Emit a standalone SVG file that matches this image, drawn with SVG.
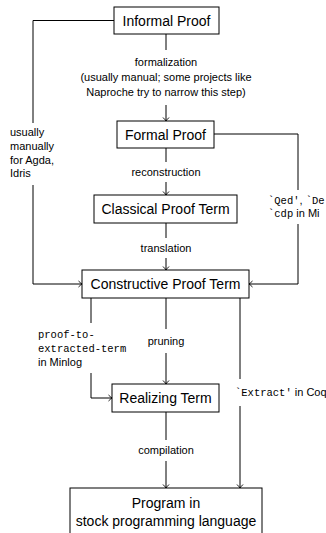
<svg xmlns="http://www.w3.org/2000/svg" width="326" height="533" viewBox="0 0 326 533">
<style>
.box{fill:#fff;stroke:#000;stroke-width:1}
.nt{font-family:"Liberation Sans",Arial,sans-serif;font-size:14px;fill:#000;text-anchor:middle}
.el{font-family:"Liberation Sans",Arial,sans-serif;font-size:11px;fill:#000}
.mono{font-family:"Liberation Mono","Courier New",monospace;font-size:10.5px}
.c{text-anchor:middle}
.ln{fill:none;stroke:#000;stroke-width:1}
</style>
<defs>
<marker id="ah" viewBox="-5 -4 6 8" refX="0" refY="0" markerWidth="6" markerHeight="8" markerUnits="userSpaceOnUse" orient="auto">
<path d="M-3.5,-3 Q-1,-0.6 0,0 Q-1,0.6 -3.5,3" fill="none" stroke="#000" stroke-width="0.9"/>
</marker>
</defs>
<g id="connectors">
<path class="ln" d="M166,34 V50"/>
<path class="ln" d="M166,105 V121" marker-end="url(#ah)"/>
<path class="ln" d="M166,148 V162"/>
<path class="ln" d="M166,182 V195" marker-end="url(#ah)"/>
<path class="ln" d="M166,223 V238"/>
<path class="ln" d="M166,258 V270" marker-end="url(#ah)"/>
<path class="ln" d="M114,20.5 H33 V123"/>
<path class="ln" d="M33,185 V284 H82" marker-end="url(#ah)"/>
<path class="ln" d="M214,134 H298 V190"/>
<path class="ln" d="M298,224 V284 H249" marker-end="url(#ah)"/>
<path class="ln" d="M166,298 V329"/>
<path class="ln" d="M166,353 V384" marker-end="url(#ah)"/>
<path class="ln" d="M91,298 V323"/>
<path class="ln" d="M91,373 V398 H112" marker-end="url(#ah)"/>
<path class="ln" d="M240,298 V379"/>
<path class="ln" d="M240,406 V488" marker-end="url(#ah)"/>
<path class="ln" d="M166,412 V440"/>
<path class="ln" d="M166,461 V488" marker-end="url(#ah)"/>
<text class="el c" x="166" y="66">formalization</text>
<text class="el c" x="166" y="81">(usually manual; some projects like</text>
<text class="el c" x="166" y="96">Naproche try to narrow this step)</text>
<text class="el c" x="166" y="176">reconstruction</text>
<text class="el c" x="166" y="252">translation</text>
<text class="el" x="10" y="136">usually</text>
<text class="el" x="10" y="150">manually</text>
<text class="el" x="10" y="164">for Agda,</text>
<text class="el" x="10" y="177">Idris</text>
<text class="el" x="268" y="204"><tspan class="mono">`Qed'</tspan>, <tspan class="mono">`De</tspan></text>
<text class="el" x="268" y="216.5"><tspan class="mono">`cdp</tspan> in Mi</text>
<text class="el" x="38" y="338"><tspan class="mono">proof-to-</tspan></text>
<text class="el" x="38" y="352"><tspan class="mono">extracted-term</tspan></text>
<text class="el" x="38" y="366">in Minlog</text>
<text class="el c" x="166" y="345">pruning</text>
<text class="el" x="235" y="396"><tspan class="mono">`Extract'</tspan> in Coq</text>
<text class="el c" x="166" y="454">compilation</text>
</g>
<g id="informal-proof">
<rect class="box" x="114" y="7" width="105" height="27"/>
<text class="nt" x="166.5" y="25.5">Informal Proof</text>
</g>
<g id="formal-proof">
<rect class="box" x="117" y="121" width="97" height="27"/>
<text class="nt" x="165.5" y="139.5">Formal Proof</text>
</g>
<g id="classical-proof-term">
<rect class="box" x="94" y="195" width="143" height="28"/>
<text class="nt" x="165.5" y="214">Classical Proof Term</text>
</g>
<g id="constructive-proof-term">
<rect class="box" x="82" y="270" width="167" height="28"/>
<text class="nt" x="165.5" y="289">Constructive Proof Term</text>
</g>
<g id="realizing-term">
<rect class="box" x="112" y="384" width="107" height="28"/>
<text class="nt" x="165.5" y="403">Realizing Term</text>
</g>
<g id="program">
<rect class="box" x="70" y="488" width="192" height="60"/>
<text class="nt" x="166" y="508">Program in</text>
<text class="nt" x="166" y="526">stock programming language</text>
</g>
</svg>
